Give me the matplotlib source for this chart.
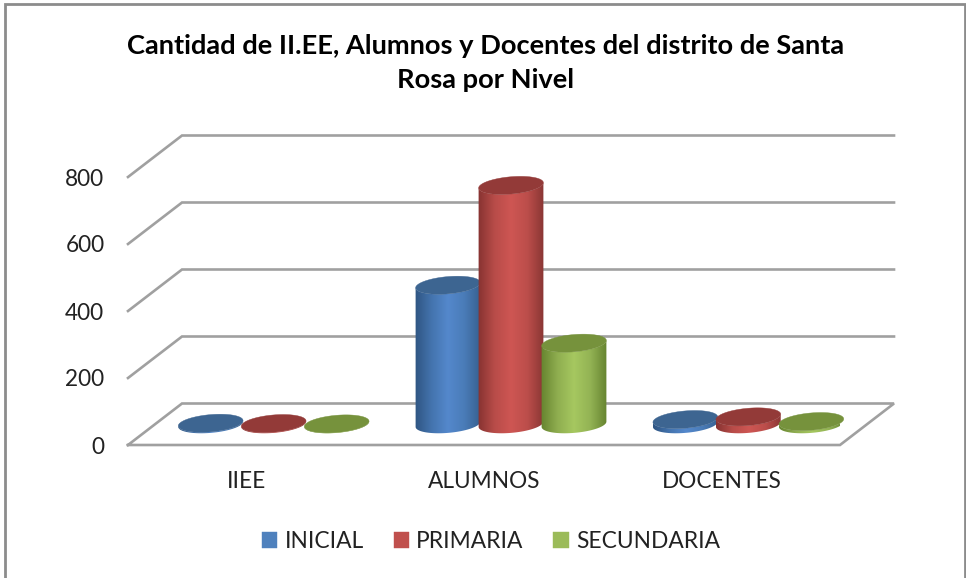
import numpy as np
import matplotlib
matplotlib.use("Agg")
import matplotlib.pyplot as plt
from matplotlib.lines import Line2D
from matplotlib.patches import Polygon, Patch
from matplotlib.colors import LinearSegmentedColormap

categories = ["IIEE", "ALUMNOS", "DOCENTES"]
series_names = ["INICIAL", "PRIMARIA", "SECUNDARIA"]
inicial = [3, 415, 14]
primaria = [2, 713, 22]
secundaria = [1, 242, 8]
y_ticks = [0, 200, 400, 600, 800]
title = "Cantidad de II.EE, Alumnos y Docentes del distrito de Santa\nRosa por Nivel"

legend_colors = ["#4F81BD", "#C0504D", "#9BBB59"]
top_colors = ["#3D6591", "#933A38", "#76923C"]
side_colors = [
    ["#2F5582", "#4474AE", "#5488CC", "#4A7CB8", "#37608F"],
    ["#873331", "#B84C49", "#CE5653", "#BC4E4B", "#8A3634"],
    ["#66842F", "#8FAE50", "#A6C860", "#93B354", "#668430"],
]

W, H = 966, 578
plt.rcParams["font.family"] = ["Lato", "DejaVu Sans"]
fig = plt.figure(figsize=(W / 100, H / 100), dpi=100)
fig.patch.set_facecolor("white")

# front plane of the plot box, in figure pixels
LEFT, RIGHT, Y0, Y800 = 128, 840, 445, 177
ax = fig.add_axes([LEFT / W, 1 - Y0 / H, (RIGHT - LEFT) / W, (Y0 - Y800) / H])
ax.set_xlim(-0.5, 2.5)
ax.set_ylim(0, 800)
for s in ax.spines.values():
    s.set_visible(False)
ax.patch.set_alpha(0)

px_x = 3 / (RIGHT - LEFT)
px_y = 800 / (Y0 - Y800)
DX, DY = 54 * px_x, 41.5 * px_y  # depth of the floor

# walls and floor
grid_kw = dict(color="#A0A0A0", lw=1.9, clip_on=False, zorder=1, solid_joinstyle="miter")
for v in y_ticks[1:]:
    ax.plot([-0.5, -0.5 + DX, 2.5 + DX], [v, v + DY, v + DY], **grid_kw)
ax.plot([-0.5, -0.5 + DX, 2.5 + DX, 2.5, -0.5],
        [0, DY, DY, 0, 0], **grid_kw)

# cylinders
A, B, TILT = 32.5, 8.6, np.deg2rad(5.0)
SPACING = 63 * px_x


def ellipse(xc, yc, t):
    ex = A * np.cos(t) * np.cos(TILT) - B * np.sin(t) * np.sin(TILT)
    ey = A * np.cos(t) * np.sin(TILT) + B * np.sin(t) * np.cos(TILT)
    return np.column_stack([xc + ex * px_x, yc + ey * px_y])


t0 = np.arctan2(-B * np.sin(TILT), A * np.cos(TILT))
lower = np.linspace(t0, t0 - np.pi, 60)  # rightmost, through the bottom, to leftmost
full = np.linspace(0, 2 * np.pi, 120)

z = 5
for c, cat in enumerate(categories):
    for s, vals in enumerate([inicial, primaria, secundaria]):
        xc = c + DX / 2 + (s - 1) * SPACING
        y_base = DY / 2
        y_top = y_base + vals[c]
        bottom = ellipse(xc, y_base, lower)
        top = ellipse(xc, y_top, lower)
        side = Polygon(np.vstack([bottom, top[::-1]]), closed=True, fc="none", ec="none",
                       zorder=z, clip_on=False)
        ax.add_patch(side)
        cmap = LinearSegmentedColormap.from_list("c", side_colors[s])
        xspan = A * px_x * 1.01
        im = ax.imshow(np.linspace(0, 1, 128).reshape(1, -1), cmap=cmap, aspect="auto",
                       extent=(xc - xspan, xc + xspan, y_base - 40, y_top + 40),
                       zorder=z, interpolation="bilinear")
        im.set_clip_path(side)
        ax.add_patch(Polygon(ellipse(xc, y_top, full), closed=True,
                             fc=top_colors[s], ec=top_colors[s], lw=0.3,
                             zorder=z + 0.5, clip_on=False))
        z += 1
ax.set_xlim(-0.5, 2.5)
ax.set_ylim(0, 800)

ax.set_xticks(range(3), categories)
ax.set_yticks(y_ticks, [str(v) for v in y_ticks])
ax.tick_params(axis="both", length=0, labelsize=16.3, labelcolor="#222222")
ax.tick_params(axis="y", pad=17)
ax.tick_params(axis="x", pad=18.5)

fig.text(486 / W, 1 - 63 / H, title, ha="center", va="center", fontsize=19.6,
         fontweight="bold", color="black", linespacing=1.55)

handles = [Patch(fc=col, ec=col, lw=0.3) for col in legend_colors]
fig.legend(handles, series_names, loc="center", bbox_to_anchor=(491 / W, 1 - 541.5 / H),
           ncols=3, frameon=False, fontsize=16.4, handlelength=0.67, handleheight=0.67,
           handletextpad=0.33, columnspacing=1.3, labelcolor="#222222")

# picture frame: left, top and right edges only
frame_x = [5 / W, 5 / W, 965 / W, 965 / W]
frame_y = [0, 1 - 4 / H, 1 - 4 / H, 0]
fig.add_artist(Line2D(frame_x, frame_y, transform=fig.transFigure,
                      color="#8C8C8C", lw=2, solid_joinstyle="miter"))
fig.savefig("out.png", dpi=100)
